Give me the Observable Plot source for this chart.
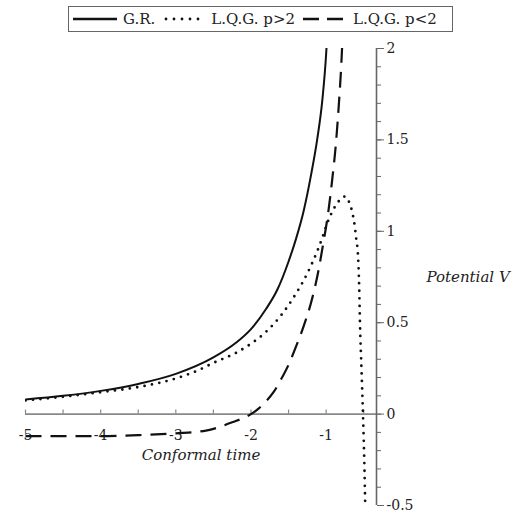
<!DOCTYPE html>
<html>
<head>
<meta charset="utf-8">
<script src="https://cdn.jsdelivr.net/npm/d3@7"></script>
<script src="https://cdn.jsdelivr.net/npm/@observablehq/plot@0.6"></script>
<style>
  html, body { margin: 0; padding: 0; background: #fff; }
  #wrap { width: 518px; position: relative; font-family: "DejaVu Serif", serif; color: #222; }
  #legend { position: relative; height: 38px; }
  #legend .box { position: absolute; left: 68px; top: 6px; width: 383px; height: 24px;
    border: 1.5px solid #666; display: flex; align-items: center; font-size: 15px; white-space: nowrap; }
  #legend svg { display: block; }
  #legend .lbl { margin: 0 6px 0 6px; }
</style>
</head>
<body>
<div id="wrap">
  <div id="legend"></div>
  <div id="chart"></div>
</div>
<script>
// ---- data ----
const seriesNames = ["G.R.", "L.Q.G. p>2", "L.Q.G. p<2"];

const etaGR = [-5, -4.5, -4, -3.5, -3, -2.5, -2.2, -2, -1.8, -1.65, -1.5, -1.4, -1.3, -1.2, -1.12, -1.05, -1.0, -0.99];
const vGR   = [0.08, 0.10, 0.127, 0.165, 0.22, 0.31, 0.39, 0.465, 0.575, 0.68, 0.835, 0.96, 1.11, 1.31, 1.50, 1.72, 1.97, 2.04];

const etaP2 = [-5, -4.5, -4, -3.5, -3, -2.7, -2.5, -2.2, -2, -1.8, -1.6, -1.4, -1.25, -1.1, -0.95, -0.85, -0.75, -0.69, -0.65, -0.62, -0.6, -0.575, -0.56, -0.55, -0.53, -0.51, -0.49, -0.48];
const vP2   = [0.075, 0.095, 0.12, 0.148, 0.195, 0.24, 0.28, 0.335, 0.385, 0.45, 0.54, 0.66, 0.77, 0.91, 1.08, 1.155, 1.19, 1.155, 1.10, 1.03, 0.96, 0.86, 0.69, 0.50, 0.25, 0.0, -0.3, -0.5];

const etaM2 = [-5, -4.5, -4, -3.5, -3, -2.6, -2.25, -2, -1.9, -1.8, -1.7, -1.6, -1.5, -1.4, -1.3, -1.2, -1.1, -1.04, -0.97, -0.92, -0.87, -0.83, -0.8, -0.785];
const vM2   = [-0.12, -0.12, -0.12, -0.115, -0.105, -0.09, -0.045, 0.0, 0.03, 0.07, 0.12, 0.19, 0.27, 0.37, 0.48, 0.61, 0.79, 0.93, 1.11, 1.28, 1.48, 1.70, 1.90, 2.03];

const xDomain = [-5, -0.33];
const yDomain = [-0.5, 2];
const xMinorTicks = [-5, -4.5, -4, -3.5, -3, -2.5, -2, -1.5, -1, -0.5];
const xTickLabels = [-5, -4, -3, -2, -1];
const yMajorTicks = [-0.5, 0, 0.5, 1, 1.5, 2];
const yMinorTicks = d3.range(-5, 21).map(i => i / 10);
const xAxisLabel = "Conformal time";
const yAxisLabel = "Potential V";

// styles per series
const styles = {
  "G.R.":       {dash: null,   width: 2,   cap: "butt"},
  "L.Q.G. p>2": {dash: "0,7.5",  width: 2.8, cap: "round"},
  "L.Q.G. p<2": {dash: "16,9", width: 2.2, cap: "butt"}
};

const toRows = (xs, ys, s) => xs.map((x, i) => ({eta: x, V: ys[i], s}));
const rows = {
  "G.R.": toRows(etaGR, vGR, "G.R."),
  "L.Q.G. p>2": toRows(etaP2, vP2, "L.Q.G. p>2"),
  "L.Q.G. p<2": toRows(etaM2, vM2, "L.Q.G. p<2")
};

// ---- legend ----
const box = document.createElement("div");
box.className = "box";
const swatchSvg = {
  "G.R.": '<svg width="44" height="10"><line x1="0" y1="5" x2="44" y2="5" stroke="#111" stroke-width="2.5"/></svg>',
  "L.Q.G. p>2": '<svg width="42" height="10"><line x1="3" y1="5" x2="42" y2="5" stroke="#111" stroke-width="2.8" stroke-linecap="round" stroke-dasharray="0,8"/></svg>',
  "L.Q.G. p<2": '<svg width="44" height="10"><line x1="0" y1="5" x2="44" y2="5" stroke="#111" stroke-width="2.5" stroke-dasharray="16,8"/></svg>'
};
seriesNames.forEach((n, i) => {
  const sw = document.createElement("span");
  sw.style.marginLeft = i === 0 ? "4px" : "2px";
  sw.innerHTML = swatchSvg[n];
  const t = document.createElement("span");
  t.className = "lbl";
  t.textContent = n;
  box.appendChild(sw);
  box.appendChild(t);
});
document.getElementById("legend").appendChild(box);

// ---- chart ----
const curveMarks = seriesNames.map(n => Plot.line(rows[n], {
  x: "eta", y: "V", curve: "monotone-x", stroke: "#111",
  strokeWidth: styles[n].width, strokeDasharray: styles[n].dash,
  strokeLinecap: styles[n].cap, clip: true
}));

const chart = Plot.plot({
  width: 518,
  height: 479,
  marginTop: 10,
  marginBottom: 12,
  marginLeft: 25,
  marginRight: 142,
  x: {domain: xDomain, axis: null},
  y: {domain: yDomain, axis: null},
  style: {fontFamily: "DejaVu Serif, serif", fontSize: "14px", color: "#222", background: "white", overflow: "visible"},
  marks: [
    // x axis at V = 0
    Plot.ruleY([0], {stroke: "#888", strokeWidth: 1.6}),
    Plot.ruleX(xMinorTicks, {x: d => d, y1: 0, y2: 0.022, stroke: "#888", strokeWidth: 1.2}),
    Plot.text(xTickLabels, {x: d => d, y: 0, dy: 21, text: d => String(d), fill: "#222", fontSize: 14}),
    // y axis at right edge
    Plot.ruleX([xDomain[1]], {stroke: "#666", strokeWidth: 1.6}),
    Plot.axisY({anchor: "right", ticks: yMinorTicks, tickSize: 4, tickFormat: () => "", label: null, stroke: "#666"}),
    Plot.axisY({anchor: "right", ticks: yMajorTicks, tickSize: 7, tickPadding: 3, tickFormat: d => String(d), label: null, stroke: "#666", fontSize: 14}),
    // axis titles
    Plot.text([xAxisLabel], {frameAnchor: "bottom", dy: -46, text: d => d, fontStyle: "italic", fontSize: 15, fill: "#222"}),
    Plot.text([yAxisLabel], {frameAnchor: "right", dx: 50, textAnchor: "start", text: d => d, fontStyle: "italic", fontSize: 15, fill: "#222"}),
    ...curveMarks
  ]
});
document.getElementById("chart").appendChild(chart);
</script>
</body>
</html>
